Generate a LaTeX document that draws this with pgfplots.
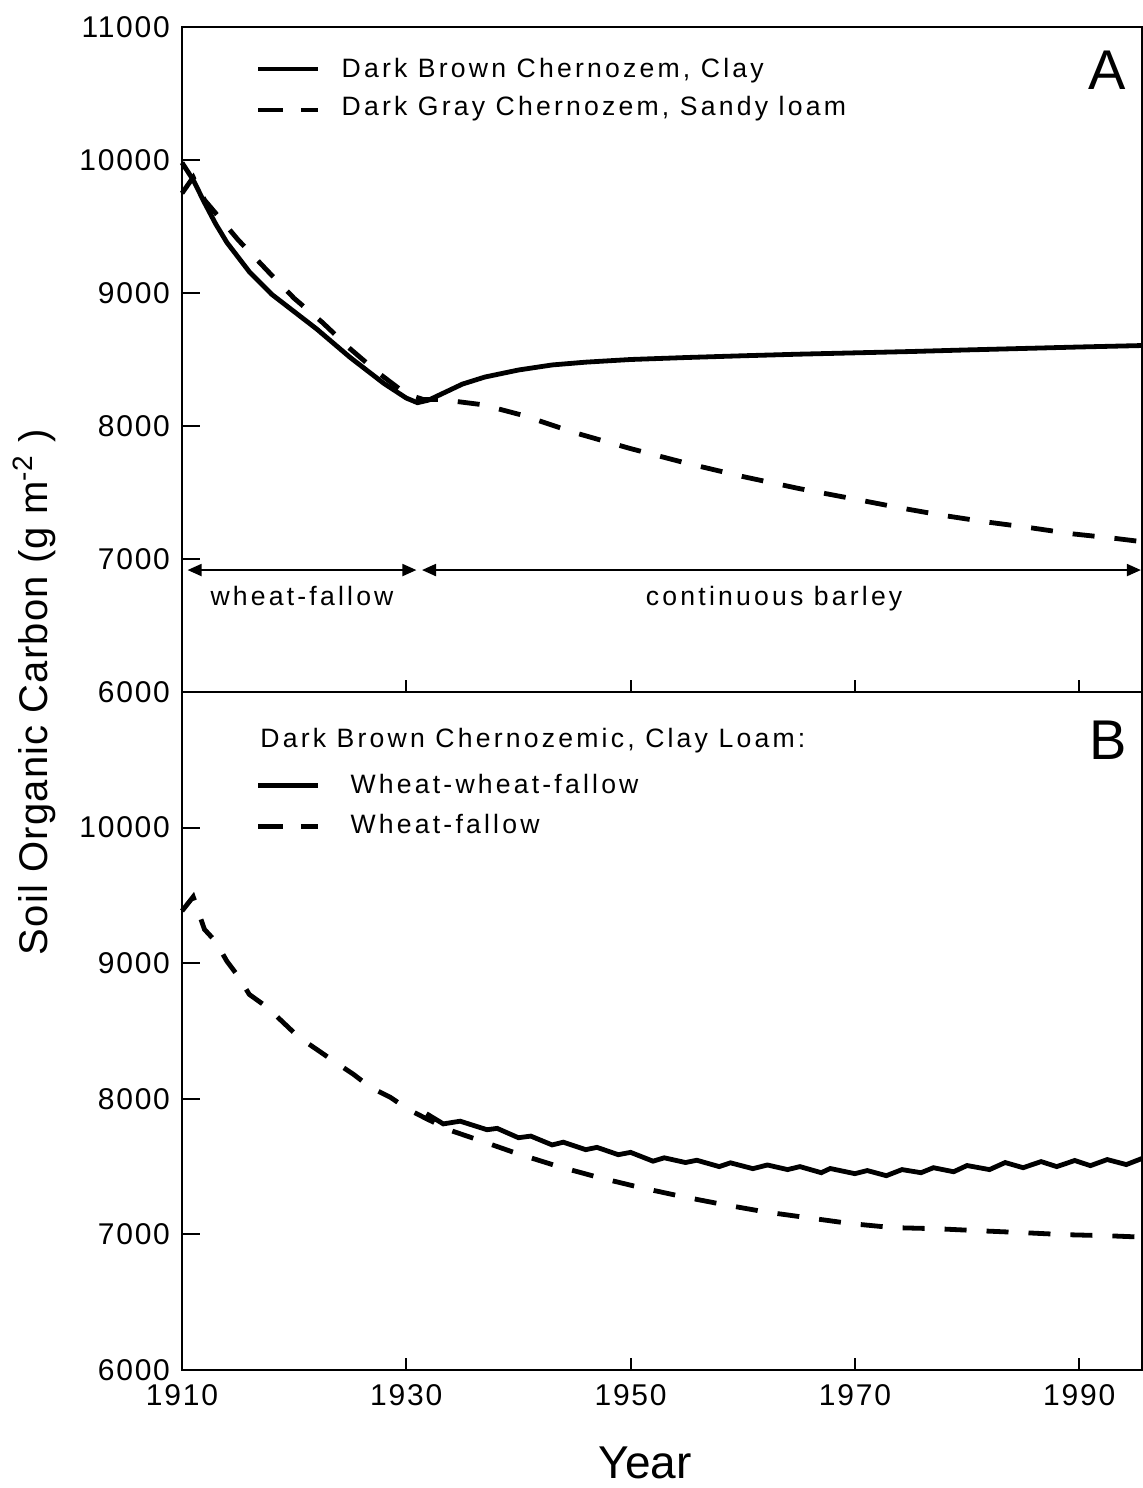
\documentclass[border=0pt]{standalone}
\usepackage{fontspec}
\setmainfont{Liberation Sans}
\newfontfamily\tickfont[LetterSpace=6]{Liberation Sans}
\newfontfamily\legfont[LetterSpace=12]{Liberation Sans}
\newfontfamily\labfont[LetterSpace=3]{Liberation Sans}
\usepackage{pgfplots}
\pgfplotsset{compat=1.18}
\usetikzlibrary{arrows.meta}

\pgfplotsset{panel/.style={
  scale only axis, width=480pt,
  xmin=1910, xmax=1995.6, ymin=6000, ymax=11000,
  scaled x ticks=false, scaled y ticks=false,
  axis line style={line width=1pt},
  tick style={line width=1pt, black},
  tick align=inside, xtick pos=bottom, ytick pos=left,
  xtick={1910,1930,1950,1970,1990},
  major tick length=9pt,
  xtick style={/pgfplots/major tick length=6pt},
  yticklabel style={font=\tickfont\fontsize{15}{15}\selectfont, xshift=-2.5pt},
  xticklabel style={font=\tickfont\fontsize{15}{15}\selectfont, yshift=-3.5pt},
  clip=false,
}}
\tikzset{
  solidline/.style={line width=2.4pt, black},
  dashline/.style={line width=2.4pt, black, dash pattern=on 11pt off 10pt},
  legtxt/.style={font=\legfont\fontsize{13.3}{13.3}\selectfont, inner sep=0pt},
}

\begin{document}
\begin{tikzpicture}
% ---------------- Panel A ----------------
\begin{axis}[panel, at={(0,0)}, anchor=north west, height=332.5pt,
  ytick={6000,7000,8000,9000,10000,11000},
  yticklabels={6000,7000,8000,9000,10000,11000},
  xticklabels={}]
\addplot[solidline] coordinates {
(1910,9980) (1911,9850) (1912,9680) (1913,9520) (1914,9380) (1916,9160)
(1918,8990) (1920,8860) (1922,8730) (1925,8515) (1928,8320) (1930,8210)
(1931,8175) (1932,8195) (1933,8235) (1934,8275) (1935,8315) (1937,8368)
(1940,8421) (1943,8459) (1946,8480) (1950,8500) (1955,8515) (1960,8528)
(1965,8540) (1970,8550) (1975,8560) (1980,8572) (1985,8583) (1990,8594)
(1995.6,8605)};
\addplot[dashline] coordinates {
(1910,9750) (1911,9870) (1912,9700) (1913,9600) (1915,9400) (1917.7,9160)
(1920,8960) (1922.5,8780) (1925,8580) (1927.5,8400) (1930,8240) (1931.5,8200)
(1933,8200) (1936.8,8160) (1940.4,8080) (1945,7950) (1950,7830) (1955,7720)
(1960,7620) (1965,7530) (1970,7450) (1974,7385) (1977.7,7330) (1981.6,7280)
(1985.5,7237) (1989.3,7190) (1993.2,7155) (1995.6,7130)};
% legend A
\draw[solidline] (axis cs:1916.8,10684) -- (axis cs:1922.1,10684);
\draw[line width=2.4pt] (axis cs:1916.8,10376) -- (axis cs:1919.0,10376);
\draw[line width=2.4pt] (axis cs:1920.6,10376) -- (axis cs:1922.1,10376);
\node[legtxt, anchor=base west] at (axis cs:1924.2,10624) {Dark Brown Chernozem, Clay};
\node[legtxt, anchor=base west] at (axis cs:1924.2,10338) {Dark Gray Chernozem, Sandy loam};
\node[font=\fontsize{28}{28}\selectfont, inner sep=0pt] at (axis cs:1992.5,10677) {A};
% period arrows
\draw[line width=1pt, {Triangle[length=7pt,width=6pt]}-{Triangle[length=7pt,width=6pt]}]
  (axis cs:1910.5,6917) -- (axis cs:1930.9,6917);
\draw[line width=1pt, {Triangle[length=7pt,width=6pt]}-{Triangle[length=7pt,width=6pt]}]
  (axis cs:1931.4,6917) -- (axis cs:1995.5,6917);
\node[legtxt, anchor=base] at (axis cs:1920.7,6647) {wheat-fallow};
\node[legtxt, anchor=base] at (axis cs:1962.8,6647) {continuous barley};
\end{axis}

% ---------------- Panel B ----------------
\begin{axis}[panel, at={(0,-332.5pt)}, anchor=north west, height=339pt,
  ytick={6000,7000,8000,9000,10000},
  yticklabels={6000,7000,8000,9000,10000},
  xticklabels={1910,1930,1950,1970,1990}]
\addplot[solidline] coordinates {
(1931.8,7890) (1933.3,7815) (1934.8,7835) (1937.2,7772) (1938.1,7782)
(1940,7713) (1941.1,7725) (1943,7660) (1944,7680) (1946,7625) (1947,7642)
(1948.9,7588) (1950,7605) (1952,7540) (1953,7565) (1954.9,7530) (1955.9,7547)
(1957.9,7500) (1958.9,7528) (1960.9,7485) (1962.2,7512) (1964,7478)
(1965.1,7500) (1967,7455) (1967.8,7486) (1970,7448) (1971.1,7471)
(1972.8,7433) (1974.2,7478) (1975.9,7455) (1977,7492) (1978.8,7462)
(1980,7508) (1982,7478) (1983.4,7530) (1985,7492) (1986.6,7537) (1988,7500)
(1989.6,7545) (1991,7507) (1992.5,7552) (1994.2,7515) (1995.6,7560)};
\addplot[dashline] coordinates {
(1910,9385) (1911,9490) (1912,9250) (1913,9160) (1914,9015) (1915,8905)
(1916,8770) (1917.6,8675) (1919,8565) (1920.4,8455) (1922,8365) (1923.7,8268)
(1925.3,8180) (1926.8,8085) (1928.6,8010) (1930.2,7920) (1932,7845)
(1934,7765) (1936.3,7700) (1939.9,7596) (1943.6,7500) (1947.2,7419)
(1950.9,7345) (1954.6,7279) (1958.3,7220) (1962,7166) (1965.8,7123)
(1969.6,7080) (1973.4,7050) (1977.3,7042) (1981.1,7027) (1985,7013)
(1988.8,6998) (1992.6,6990) (1995.6,6980)};
% legend B
\node[legtxt, anchor=base west] at (axis cs:1916.96,10590) {Dark Brown Chernozemic, Clay Loam:};
\draw[solidline] (axis cs:1916.8,10309) -- (axis cs:1922.1,10309);
\draw[line width=2.4pt] (axis cs:1916.8,10006) -- (axis cs:1919.0,10006);
\draw[line width=2.4pt] (axis cs:1920.6,10006) -- (axis cs:1922.1,10006);
\node[legtxt, anchor=base west] at (axis cs:1925.0,10250) {Wheat-wheat-fallow};
\node[legtxt, anchor=base west] at (axis cs:1925.0,9954) {Wheat-fallow};
\node[font=\fontsize{28}{28}\selectfont, inner sep=0pt] at (axis cs:1992.6,10641) {B};
\end{axis}

% axis titles
\node[rotate=90, anchor=base, inner sep=0pt, font=\labfont\fontsize{20}{20}\selectfont]
  at (-67pt,-332.5pt) {Soil Organic Carbon (g m\textsuperscript{-2} )};
\node[anchor=base, inner sep=0pt, font=\fontsize{23}{23}\selectfont]
  at (231.5pt,-725.5pt) {Year};

\pgfresetboundingbox
\path[use as bounding box] (-91pt,13.5pt) rectangle (480.5pt,-730.5pt);
\end{tikzpicture}
\end{document}
